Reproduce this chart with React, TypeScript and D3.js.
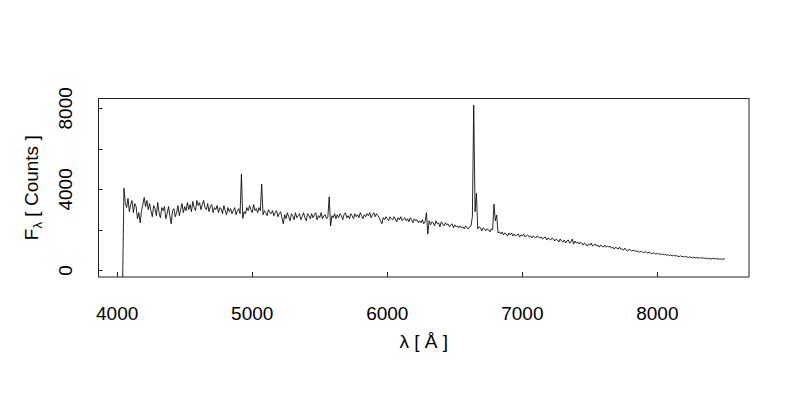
import React from "react";
import * as d3 from "d3";

// Spectrum: flux in counts on a regular 10 Å grid starting at 4040 Å
const lambdaStart = 4040;
const lambdaStep = 10;
const flux: number[] = [
  -600, 4050, 3350, 3100, 3550, 2900, 3250, 3450, 2850, 3300,
  3150, 2550, 2850, 2350, 2950, 3250, 3600, 3150, 3450, 3000,
  3300, 2950, 2650, 3200, 3050, 2700, 3350, 2850, 2600, 3100,
  2950, 3150, 2550, 2800, 3150, 2700, 2300, 2950, 3050, 2650,
  2850, 3200, 2700, 3000, 3300, 2850, 3150, 2950, 3350, 3000,
  3250, 2900, 3400, 3100, 2950, 3450, 3200, 3350, 3000, 3250,
  3450, 3100, 3000, 3300, 2900, 3150, 3250, 2850, 3100, 3000,
  3200, 2850, 3100, 3050, 2800, 3200, 2950, 2750, 3100, 2900,
  3050, 2800, 2950, 3100, 2750, 2950, 3050, 2800, 4750, 2570,
  2900, 2800, 3100, 2950, 3200, 3000, 2850, 3250, 2950, 3050,
  2850, 3100, 2950, 4260, 2750, 2950, 2850, 2700, 3000, 2850,
  2800, 2950, 2700, 2850, 2950, 2650, 2800, 2900, 2600, 2300,
  2750, 2550, 2850, 2650, 2450, 2800, 2700, 2500, 2850, 2600,
  2700, 2800, 2500, 2650, 2850, 2600, 2450, 2800, 2700, 2550,
  2800, 2600, 2750, 2850, 2500, 2700, 2600, 2850, 2550, 2700,
  2750, 2550, 2650, 3630, 2190, 2700, 2600, 2800, 2550, 2750,
  2600, 2800, 2700, 2500, 2750, 2850, 2600, 2700, 2550, 2800,
  2700, 2550, 2800, 2650, 2750, 2600, 2850, 2700, 2550, 2750,
  2650, 2800, 2700, 2850, 2600, 2750, 2850, 2650, 2800, 2700,
  2600, 2450, 2300, 2600, 2500, 2650, 2550, 2450, 2650, 2550,
  2500, 2650, 2550, 2400, 2600, 2500, 2650, 2450, 2550, 2600,
  2450, 2550, 2400, 2600, 2500, 2350, 2550, 2450, 2500, 2350,
  2450, 2350, 2500, 2300, 2400, 2850, 1790, 2450, 2250, 2400,
  2350, 2200, 2450, 2300, 2350, 2150, 2400, 2300, 2200, 2350,
  2250, 2300, 2150, 2250, 2300, 2100, 2250, 2150, 2200, 2100,
  2200, 2100, 2150, 2050, 2200, 2100, 2050, 2150, 2200, 2650,
  8160, 2900, 3800, 2050, 2150, 2100, 1950, 2100, 2050, 1950,
  2050, 2000, 1900, 2050, 2000, 3270, 2450, 2730, 1850, 1900,
  1800, 1900, 1750, 1850, 1800, 1700, 1850, 1750, 1850, 1700,
  1800, 1700, 1750, 1800, 1650, 1750, 1700, 1800, 1650, 1700,
  1750, 1650, 1700, 1600, 1700, 1650, 1600, 1700, 1650, 1600,
  1650, 1550, 1600, 1650, 1500, 1600, 1550, 1500, 1600, 1550,
  1450, 1550, 1500, 1400, 1550, 1450, 1400, 1500, 1350, 1450,
  1500, 1350, 1400, 1550, 1300, 1450, 1350, 1400, 1300, 1400,
  1350, 1250, 1350, 1300, 1200, 1300, 1250, 1350, 1200, 1250,
  1300, 1200, 1250, 1150, 1250, 1200, 1150, 1250, 1150, 1200,
  1150, 1200, 1100, 1150, 1050, 1150, 1100, 1050, 1150, 1050,
  1050, 1000, 1100, 1000, 950, 1050, 1000, 950, 1000, 950,
  980, 920, 950, 890, 960, 900, 870, 930, 880, 860,
  900, 850, 820, 880, 830, 800, 860, 790, 820, 780,
  810, 770, 790, 740, 780, 730, 760, 720, 750, 710,
  730, 700, 680, 720, 670, 700, 650, 690, 660, 640,
  670, 640, 620, 660, 610, 640, 620, 600, 640, 600,
  620, 590, 610, 570, 600, 580, 560, 600, 570, 590,
  560, 580, 550, 570, 540, 570, 560,
];

const xTicks = [4000, 5000, 6000, 7000, 8000];
const yTicks = [0, 2000, 4000, 6000, 8000];
const yLabelTicks = [0, 4000, 8000];
const xTitle = "λ [ Å ]";
const yTitleMain = "F";
const yTitleSub = "λ";
const yTitleRest = " [ Counts ]";

const FONT = "'Liberation Sans', Arial, Helvetica, sans-serif";

export default function App() {
  const W = 800;
  const H = 400;
  const box = { left: 98.5, right: 749, top: 98.5, bottom: 277 };

  const lambda = flux.map((_, i) => lambdaStart + i * lambdaStep);
  const lmin = d3.min(lambda) as number;
  const lmax = d3.max(lambda) as number;
  const lr = lmax - lmin;
  const x = d3
    .scaleLinear()
    .domain([lmin - 0.04 * lr, lmax + 0.04 * lr])
    .range([box.left, box.right]);

  const fmax = d3.max(flux) as number;
  const y = d3
    .scaleLinear()
    .domain([0 - 0.04 * fmax, fmax + 0.04 * fmax])
    .range([box.bottom, box.top]);

  const line = d3
    .line<number>()
    .x((_, i) => x(lambda[i]))
    .y((d) => y(d));

  const fs = 19;

  return (
    <svg
      width={W}
      height={H}
      style={{ position: "absolute", left: 0, top: 0, background: "#fff" }}
      fontFamily={FONT}
    >
      <defs>
        <clipPath id="plotClip">
          <rect
            x={box.left}
            y={box.top}
            width={box.right - box.left}
            height={box.bottom - box.top}
          />
        </clipPath>
      </defs>
      <rect x={0} y={0} width={W} height={H} fill="#fff" />
      <path
        d={line(flux) || ""}
        fill="none"
        stroke="#000"
        strokeWidth={0.85}
        strokeLinejoin="miter"
        clipPath="url(#plotClip)"
      />
      <rect
        x={box.left}
        y={box.top}
        width={box.right - box.left}
        height={box.bottom - box.top}
        fill="none"
        stroke="#222"
        strokeWidth={1}
      />
      {xTicks.map((t) => (
        <g key={"xt" + t}>
          <line
            x1={Math.round(x(t)) + 0.5}
            x2={Math.round(x(t)) + 0.5}
            y1={box.bottom}
            y2={box.bottom - 5}
            stroke="#222"
            strokeWidth={1}
          />
          <text x={x(t)} y={320} textAnchor="middle" fontSize={fs} fill="#000">
            {t}
          </text>
        </g>
      ))}
      {yTicks.map((t) => (
        <line
          key={"yt" + t}
          x1={box.left}
          x2={box.left + 4}
          y1={Math.round(y(t)) + 0.5}
          y2={Math.round(y(t)) + 0.5}
          stroke="#222"
          strokeWidth={1}
        />
      ))}
      {yLabelTicks.map((t) => (
        <text
          key={"yl" + t}
          transform={`translate(72,${y(t)}) rotate(-90)`}
          textAnchor="middle"
          fontSize={fs}
          fill="#000"
        >
          {t}
        </text>
      ))}
      <text
        x={(box.left + box.right) / 2}
        y={348}
        textAnchor="middle"
        fontSize={fs}
        fill="#000"
      >
        {xTitle}
      </text>
      <text
        transform={`translate(38,${(box.top + box.bottom) / 2}) rotate(-90)`}
        textAnchor="middle"
        fontSize={fs}
        fill="#000"
      >
        {yTitleMain}
        <tspan fontSize={fs * 0.7} dy={4}>
          {yTitleSub}
        </tspan>
        <tspan dy={-4}>{yTitleRest}</tspan>
      </text>
    </svg>
  );
}
